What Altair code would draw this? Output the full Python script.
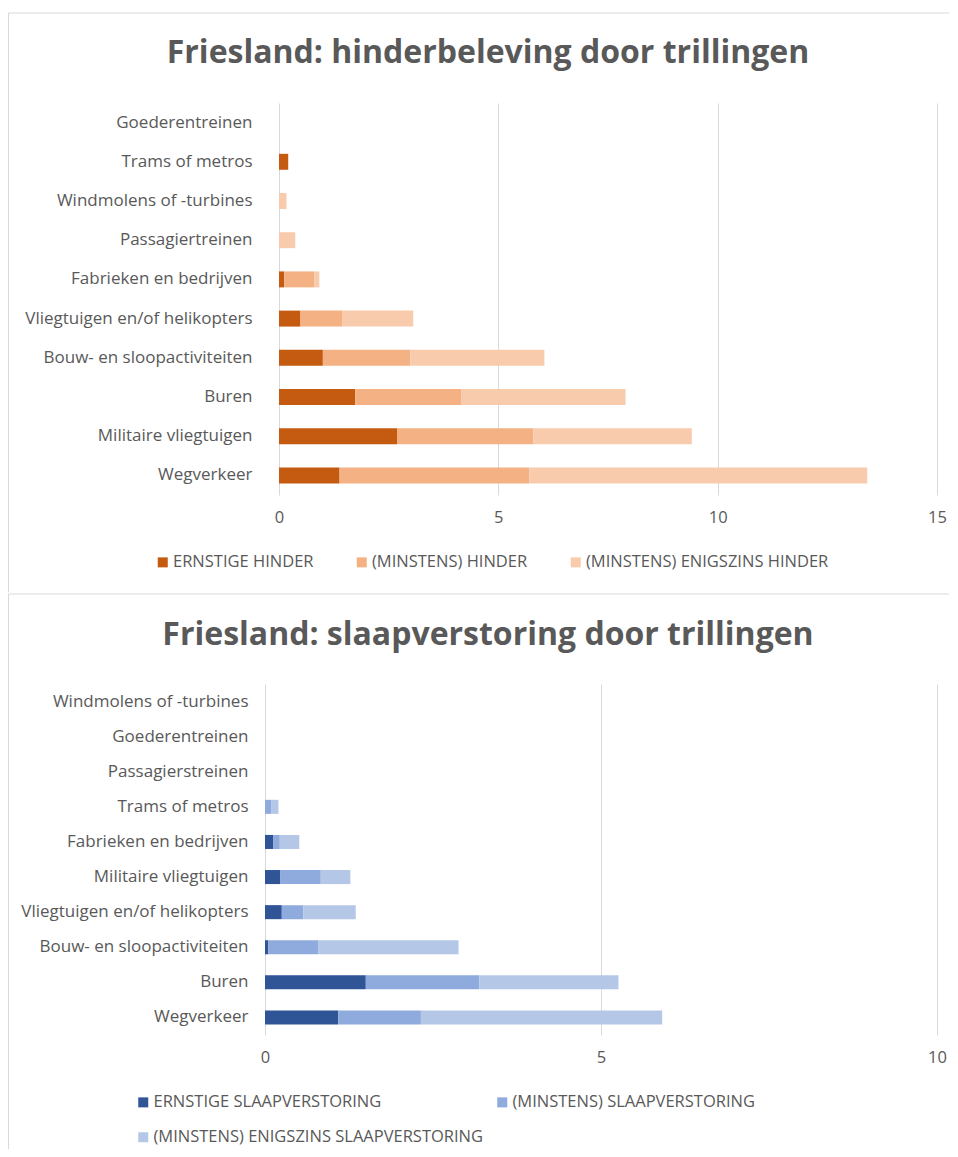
import altair as alt
import pandas as pd

FONT = "Open Sans"
TEXT = "#595959"
GRID = "#d9d9d9"
BORDER = "#d9d9d9"

# ---- top chart data ----
top_title = "Friesland: hinderbeleving door trillingen"
top_categories = ["Goederentreinen", "Trams of metros", "Windmolens of -turbines",
                  "Passagiertreinen", "Fabrieken en bedrijven",
                  "Vliegtuigen en/of helikopters", "Bouw- en sloopactiviteiten",
                  "Buren", "Militaire vliegtuigen", "Wegverkeer"]
top_series = ["ERNSTIGE HINDER", "(MINSTENS) HINDER", "(MINSTENS) ENIGSZINS HINDER"]
top_ernstige = [0, 0.21, 0, 0, 0.12, 0.49, 1.00, 1.74, 2.69, 1.38]
top_hinder = [0, 0, 0, 0, 0.68, 0.96, 1.99, 2.41, 3.11, 4.33]
top_enigszins = [0, 0, 0.17, 0.37, 0.12, 1.61, 3.06, 3.75, 3.61, 7.70]
top_ticks = [0, 5, 10, 15]
top_colors = ["#c55a11", "#f4b183", "#f8cbad"]

# ---- bottom chart data ----
bot_title = "Friesland: slaapverstoring door trillingen"
bot_categories = ["Windmolens of -turbines", "Goederentreinen", "Passagierstreinen",
                  "Trams of metros", "Fabrieken en bedrijven", "Militaire vliegtuigen",
                  "Vliegtuigen en/of helikopters", "Bouw- en sloopactiviteiten",
                  "Buren", "Wegverkeer"]
bot_series = ["ERNSTIGE SLAAPVERSTORING", "(MINSTENS) SLAAPVERSTORING",
              "(MINSTENS) ENIGSZINS SLAAPVERSTORING"]
bot_ernstige = [0, 0, 0, 0, 0.12, 0.23, 0.25, 0.05, 1.50, 1.09]
bot_minstens = [0, 0, 0, 0.09, 0.10, 0.60, 0.32, 0.74, 1.69, 1.23]
bot_enigszins = [0, 0, 0, 0.11, 0.29, 0.44, 0.78, 2.09, 2.07, 3.59]
bot_ticks = [0, 5, 10]
bot_colors = ["#2f5597", "#8faadc", "#b4c7e7"]

W = 672


def panel(title, cats, series, vals, colors, ticks, x_off, height, pad_inner,
          title_y, label_pad, legend_x, legend_y, legend_cols, col_pad, border_bottom):
    rows = []
    for si, (s, v) in enumerate(zip(series, vals)):
        for c, val in zip(cats, v):
            rows.append({"cat": c, "series": s, "order": si, "value": val})
    df = pd.DataFrame(rows)

    bars = alt.Chart(df).mark_bar().encode(
        x=alt.X("value:Q", stack="zero",
                scale=alt.Scale(domain=[0, ticks[-1]], range=[x_off, W], nice=False, zero=True),
                axis=alt.Axis(values=ticks, title=None, domain=False, ticks=False, grid=True,
                              gridColor=GRID, labelPadding=14, labelFontSize=16.5,
                              labelFlush=False, labelColor=TEXT, labelFont=FONT)),
        y=alt.Y("cat:N", sort=cats,
                scale=alt.Scale(paddingInner=pad_inner, paddingOuter=pad_inner / 2),
                axis=alt.Axis(title=None, domain=False, ticks=False, grid=False,
                              labelPadding=label_pad, labelFontSize=17, labelColor=TEXT,
                              labelFont=FONT, labelLimit=400)),
        color=alt.Color("series:N", scale=alt.Scale(domain=series, range=colors),
                        legend=alt.Legend(orient="none", legendX=legend_x, legendY=legend_y,
                                          direction="horizontal", columns=legend_cols,
                                          title=None, symbolType="square", symbolSize=100,
                                          symbolStrokeWidth=0, labelFontSize=16.5,
                                          labelFont=FONT, labelColor=TEXT, labelOffset=2,
                                          columnPadding=col_pad,
                                          rowPadding=18, labelLimit=600)),
        order=alt.Order("order:Q", sort="ascending"),
    )

    one = pd.DataFrame({"t": [title]})
    top_line = alt.Chart(one).mark_rule(color=BORDER, strokeWidth=1).encode(
        x=alt.value(-256.5), x2=alt.value(684), y=alt.value(-90))
    left_line = alt.Chart(one).mark_rule(color=BORDER, strokeWidth=1).encode(
        x=alt.value(-256.5), y=alt.value(-90), y2=alt.value(border_bottom))
    title_mark = alt.Chart(one).mark_text(
        font=FONT, fontSize=32, fontWeight="bold", color=TEXT,
        align="center", baseline="alphabetic").encode(
        text="t:N", x=alt.value(223), y=alt.value(title_y))

    return alt.layer(top_line, left_line, bars, title_mark).properties(width=W, height=height)


top = panel(top_title, top_categories, top_series,
            [top_ernstige, top_hinder, top_enigszins], top_colors, top_ticks,
            x_off=14, height=392, pad_inner=0.593, title_y=-40, label_pad=13,
            legend_x=-110.5, legend_y=451, legend_cols=3, col_pad=40, border_bottom=489.5)

bottom = panel(bot_title, bot_categories, bot_series,
               [bot_ernstige, bot_minstens, bot_enigszins], bot_colors, bot_ticks,
               x_off=0, height=351, pad_inner=0.60, title_y=-39, label_pad=17,
               legend_x=-130, legend_y=410, legend_cols=2, col_pad=10, border_bottom=465)

chart = alt.vconcat(top, bottom, spacing=0).resolve_scale(
    x="independent", y="independent", color="independent"
).resolve_legend(color="independent").properties(
    padding={"top": 4, "left": 0, "right": 0, "bottom": 0}
).configure_view(stroke=None)

chart.save("out.html", embed_options={"renderer": "svg", "actions": False})
